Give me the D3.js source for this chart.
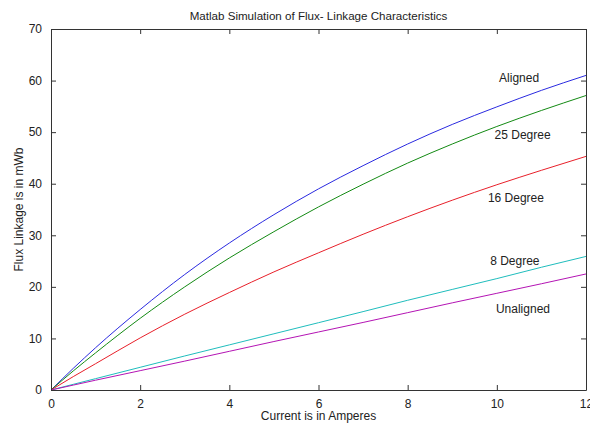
<!DOCTYPE html>
<html>
<head>
<meta charset="utf-8">
<script src="https://cdn.jsdelivr.net/npm/d3@7"></script>
<style>
  body { margin: 0; background: #fff; }
  text { font-family: "Liberation Sans", Arial, sans-serif; fill: #222; }
</style>
</head>
<body>
<svg id="chart" width="590" height="425"></svg>
<script>
// current values (A)
const current = [0, 0.5, 1, 2, 3, 4, 5, 6, 7, 8, 9, 10, 11, 12]

// flux linkage (mWb)
const aligned   = [0, 4.2, 8.2, 15.6, 22.4, 28.5, 34.0, 39.0, 43.5, 47.7, 51.5, 54.9, 58.1, 61.0]
const deg25     = [0, 3.7, 7.2, 13.9, 20.0, 25.6, 30.7, 35.5, 39.9, 44.0, 47.7, 51.1, 54.2, 57.1]
const deg16     = [0, 2.6, 5.1, 10.1, 14.7, 18.9, 22.9, 26.6, 30.2, 33.6, 36.8, 39.8, 42.6, 45.3]
const deg8      = [0, 1.1, 2.2, 4.4, 6.6, 8.75, 10.9, 13.05, 15.2, 17.4, 19.5, 21.6, 23.8, 25.9]
const unaligned = [0, 0.95, 1.9, 3.75, 5.6, 7.5, 9.4, 11.25, 13.1, 15.0, 16.9, 18.75, 20.6, 22.5]

const xTicks = [0, 2, 4, 6, 8, 10, 12]
const yTicks = [0, 10, 20, 30, 40, 50, 60, 70]

// label text and where matlab put it (data coords)
const labels = ['Aligned', '25 Degree', '16 Degree', '8 Degree', 'Unaligned']
const labelX = [10.05, 9.95, 9.8, 9.85, 9.98]
const labelY = [60.5, 49.4, 37.2, 25.0, 15.7]

const series = [
  { name: 'Aligned', values: aligned, color: '#2a2ae0' },
  { name: '25 Degree', values: deg25, color: '#138a13' },
  { name: '16 Degree', values: deg16, color: '#e8202a' },
  { name: '8 Degree', values: deg8, color: '#1fbdbd' },
  { name: 'Unaligned', values: unaligned, color: '#b414b4' }
]

const LEFT = 51
const RIGHT = 586
const TOP = 29
const BOTTOM = 390
const TICK = 5

const svg = d3.select('#chart')

const x = d3.scaleLinear().domain([0, 12]).range([LEFT, RIGHT])
const y = d3.scaleLinear().domain([0, 70]).range([BOTTOM, TOP])

// curves
const line = d3.line()
  .x((d, i) => x(current[i]))
  .y(d => y(d))
  .curve(d3.curveMonotoneX)

series.forEach(s => {
  svg.append('path')
    .datum(s.values)
    .attr('fill', 'none')
    .attr('stroke', s.color)
    .attr('stroke-width', 1)
    .attr('d', line)
})

// axes, ticks pointing inward like matlab
const bottomAxis = d3.axisBottom(x).tickValues(xTicks).tickSizeInner(-TICK).tickSizeOuter(0).tickPadding(9)
const topAxis = d3.axisTop(x).tickValues(xTicks).tickSizeInner(-TICK).tickSizeOuter(0).tickFormat('')
const leftAxis = d3.axisLeft(y).tickValues(yTicks).tickSizeInner(-TICK).tickSizeOuter(0).tickPadding(9)
const rightAxis = d3.axisRight(y).tickValues(yTicks).tickSizeInner(-TICK).tickSizeOuter(0).tickFormat('')

function styleAxis(g) {
  g.select('.domain').attr('stroke', '#333')
  g.selectAll('.tick line').attr('stroke', '#333')
  g.selectAll('.tick text')
    .attr('font-size', 12)
    .attr('font-family', '"Liberation Sans", Arial, sans-serif')
    .attr('fill', '#222')
}

svg.append('g').attr('transform', `translate(0, ${BOTTOM})`).call(bottomAxis).call(styleAxis)
svg.append('g').attr('transform', `translate(0, ${TOP})`).call(topAxis).call(styleAxis)
svg.append('g').attr('transform', `translate(${LEFT}, 0)`).call(leftAxis).call(styleAxis)
svg.append('g').attr('transform', `translate(${RIGHT}, 0)`).call(rightAxis).call(styleAxis)

// curve labels
svg.selectAll('.curve-label')
  .data(labels)
  .enter()
  .append('text')
  .attr('class', 'curve-label')
  .attr('x', (d, i) => x(labelX[i]))
  .attr('y', (d, i) => y(labelY[i]))
  .attr('dy', '0.35em')
  .attr('font-size', 12)
  .text(d => d)

// title + axis labels
svg.append('text')
  .attr('x', (LEFT + RIGHT) / 2)
  .attr('y', 20)
  .attr('text-anchor', 'middle')
  .attr('font-size', 11.6)
  .text('Matlab Simulation of Flux- Linkage Characteristics')

svg.append('text')
  .attr('x', (LEFT + RIGHT) / 2)
  .attr('y', 420)
  .attr('text-anchor', 'middle')
  .attr('font-size', 12)
  .text('Current is in Amperes')

svg.append('text')
  .attr('transform', `translate(23, ${(TOP + BOTTOM) / 2}) rotate(-90)`)
  .attr('text-anchor', 'middle')
  .attr('font-size', 12)
  .text('Flux Linkage is in mWb')
</script>
</body>
</html>
